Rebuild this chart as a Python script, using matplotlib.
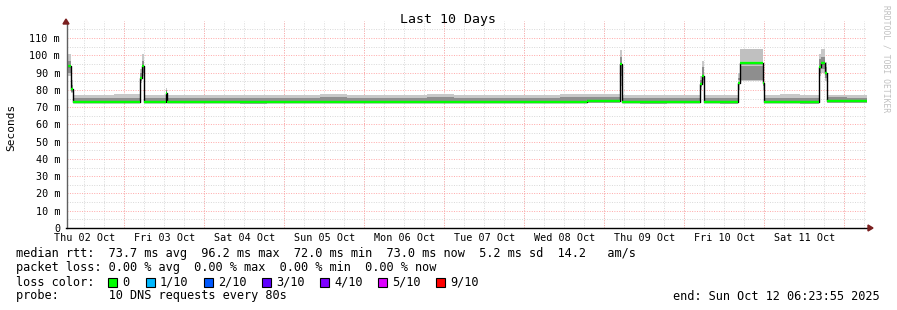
import numpy as np
import matplotlib
matplotlib.use("Agg")
import matplotlib.pyplot as plt
from matplotlib.patches import Rectangle

MONO = "DejaVu Sans Mono"

# time axis: hours since start (Thu 02 Oct 06:23:55), 240 h shown
day_labels = ["Thu 02 Oct", "Fri 03 Oct", "Sat 04 Oct", "Sun 05 Oct", "Mon 06 Oct",
              "Tue 07 Oct", "Wed 08 Oct", "Thu 09 Oct", "Fri 10 Oct", "Sat 11 Oct"]
first_midnight = 17.1  # hours after start

# median rtt in ms, as steps: value holds from t[i] to t[i+1]
t = [0, 1.2, 1.8, 8, 14, 21.9, 22.5, 23.1, 29.7, 30, 36, 44, 52, 60, 68, 76, 84, 92,
     100, 108, 116, 124, 132, 140, 148, 156, 165.9, 166.5, 172, 180, 189.9, 190.5,
     191.1, 196, 201.3, 201.9, 208.8, 209.1, 214, 220, 225.6, 226.2, 227.4, 228, 234, 240]
median = [94, 80.5, 73.0, 72.8, 72.9, 87, 94, 73.0, 78.3, 72.8, 73.0, 72.9, 72.7, 73.0,
          72.8, 73.1, 72.9, 73.0, 72.8, 73.2, 73.1, 72.9, 73.0, 72.8, 73.1, 73.3, 95,
          72.8, 72.7, 72.9, 83.5, 88, 72.8, 72.7, 84, 95.3, 84, 72.8, 72.9, 72.7, 93.5,
          95.5, 90, 73.3, 73.8]
# smoke: outer (min/max of the pings) and inner band
smoke_lo = [88, 78, 72.3, 72.2, 72.3, 84, 88, 72.3, 76, 72.2, 72.3, 72.3, 72.1, 72.3,
            72.2, 72.4, 72.3, 72.3, 72.2, 72.5, 72.4, 72.3, 72.3, 72.2, 72.4, 72.6, 82,
            72.2, 72.1, 72.3, 80, 84, 72.2, 72.1, 80, 85, 80, 72.2, 72.3, 72.1, 88,
            90, 85, 72.3, 72.6]
smoke_hi = [101, 86, 77.2, 76.9, 77.4, 92, 101, 77.0, 81, 76.9, 77.2, 77.0, 76.8, 77.3,
            77.0, 77.4, 77.1, 77.2, 76.9, 77.6, 77.3, 77.1, 77.2, 76.9, 77.4, 77.7, 103,
            76.9, 76.8, 77.2, 88, 97, 76.9, 76.8, 90, 103.5, 88, 77.1, 77.6, 77.0, 101,
            103.5, 96, 77.2, 76.9]
inner_lo = [90, 79, 73.0, 72.9, 73.0, 85, 90, 73.0, 77, 72.9, 73.0, 73.0, 72.8, 73.0,
            72.9, 73.1, 73.0, 73.0, 72.9, 73.2, 73.1, 73.0, 73.0, 72.9, 73.1, 73.3, 88,
            72.9, 72.8, 73.0, 81.5, 85.5, 72.9, 72.8, 86, 86, 82, 72.9, 73.0, 72.8, 90,
            92, 87, 73.1, 73.5]
inner_hi = [97, 83, 75.4, 75.2, 75.5, 90, 97, 75.3, 80, 75.2, 75.4, 75.3, 75.1, 75.5,
            75.3, 75.6, 75.4, 75.4, 75.2, 75.7, 75.5, 75.4, 75.4, 75.2, 75.6, 75.8, 99,
            75.2, 75.1, 75.4, 86, 93, 75.2, 75.1, 87, 94, 86, 75.3, 75.5, 75.2, 98,
            99, 93, 75.6, 75.4]

loss_labels = ["0", "1/10", "2/10", "3/10", "4/10", "5/10", "9/10"]
loss_colors = ["#00ff00", "#00b8ff", "#0059ff", "#5e00ff", "#7e00ff", "#dd00ff", "#ff0000"]

W, H = 897, 310
fig = plt.figure(figsize=(W / 100, H / 100), dpi=100)
fig.patch.set_facecolor("white")

def px(x, y):
    return x / W, 1 - y / H

ax = fig.add_axes([67 / W, 1 - 228 / H, 800 / W, 207.2 / H])
ax.set_xlim(0, 240)
ax.set_ylim(0, 120)
for s in ax.spines.values():
    s.set_visible(False)

# grid
dot = (0, (1, 1.5))
for h in np.arange(first_midnight - 12, 240, 6):
    if h > 0:
        ax.axvline(h, color="#d8d8d8", lw=0.7, ls=dot, zorder=0)
for h in np.arange(first_midnight, 240, 24):
    ax.axvline(h, color="#ffa8a8", lw=0.7, ls=dot, zorder=0)
for v in np.arange(5, 120, 10):
    ax.axhline(v, color="#d8d8d8", lw=0.7, ls=dot, zorder=0)
for v in np.arange(10, 120, 10):
    ax.axhline(v, color="#ffa8a8", lw=0.7, ls=dot, zorder=0)

# smoke
tt = np.array(t)
ext = lambda a: np.append(a, a[-1])
ax.fill_between(tt, ext(smoke_lo), ext(smoke_hi), step="post", color="#c8c8c8", lw=0, zorder=2)
ax.fill_between(tt, ext(inner_lo), ext(inner_hi), step="post", color="#8e8e8e", lw=0, zorder=3)
# plateau upper light part
ax.fill_between([201.9, 208.8], 97, 103.5, color="#c0c0c0", lw=0, zorder=3)

# median
ax.step(tt, ext(median), where="post", color="black", lw=1.0, zorder=4)
ax.hlines(median, tt[:-1], tt[1:], color="#00ff00", lw=1.7, zorder=5)

# axes lines with arrows
ax.plot([0, 0], [0, 119.5], color="#606060", lw=1.0, clip_on=False, zorder=6)
ax.plot([-0.3, 241], [0, 0], color="black", lw=1.0, clip_on=False, zorder=6)
fig.add_artist(plt.Polygon([px(63, 24), px(69, 24), px(66, 19)], closed=True,
                           transform=fig.transFigure, color="#7a1f1f"))
fig.add_artist(plt.Polygon([px(868, 225), px(868, 231), px(873, 228)], closed=True,
                           transform=fig.transFigure, color="#7a1f1f"))

# ticks
ax.set_xticks(np.arange(first_midnight - 12 + 0.3, 240, 24))
ax.set_xticklabels(day_labels, fontfamily=MONO, fontsize=7.3)
yt = np.arange(0, 111, 10)
ax.set_yticks(yt)
ax.set_yticklabels(["0"] + ["%d m" % v for v in yt[1:]], fontfamily=MONO, fontsize=7.3)
ax.tick_params(length=0, pad=5)
ax.tick_params(axis="x", pad=3.5)

fig.text(*px(11, 127), "Seconds", rotation=90, ha="center", va="center",
         fontfamily=MONO, fontsize=8)
fig.text(*px(448, 20), "Last 10 Days", ha="center", va="center",
         fontfamily=MONO, fontsize=9.5)
fig.text(*px(886, 5), "RRDTOOL / TOBI OETIKER", rotation=-90, ha="center", va="top",
         fontfamily=MONO, fontsize=5.8, color="#c0c0c0")

fs = 8.55
fig.text(*px(16, 254), "median rtt:  73.7 ms avg  96.2 ms max  72.0 ms min  73.0 ms now  5.2 ms sd  14.2   am/s",
         va="center", fontfamily=MONO, fontsize=fs)
fig.text(*px(16, 268), "packet loss: 0.00 % avg  0.00 % max  0.00 % min  0.00 % now",
         va="center", fontfamily=MONO, fontsize=fs)
fig.text(*px(16, 282), "loss color:", va="center", fontfamily=MONO, fontsize=fs)
box_x = [108, 146, 204, 262, 320, 378, 436]
for bx, lab, col in zip(box_x, loss_labels, loss_colors):
    x0, y0 = px(bx, 287)
    fig.add_artist(Rectangle((x0, y0), 9 / W, 9 / H, transform=fig.transFigure,
                             facecolor=col, edgecolor="black", lw=0.8))
    fig.text(*px(bx + 14, 282), lab, va="center", fontfamily=MONO, fontsize=fs)
fig.text(*px(16, 296), "probe:       10 DNS requests every 80s", va="center",
         fontfamily=MONO, fontsize=fs)
fig.text(*px(880, 296), "end: Sun Oct 12 06:23:55 2025", va="center", ha="right",
         fontfamily=MONO, fontsize=fs)

fig.savefig("out.png", dpi=100)
